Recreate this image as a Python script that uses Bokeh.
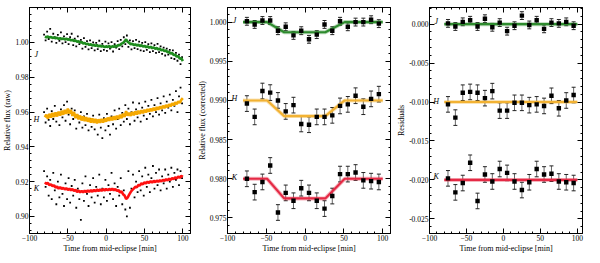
from bokeh.plotting import figure
from bokeh.models import (LinearAxis, FixedTicker, PrintfTickFormatter, Range1d,
                          Whisker, ColumnDataSource, TeeHead, CustomJSTickFormatter)
from bokeh.layouts import row
from bokeh.core.properties import value
from bokeh.embed import file_html
from bokeh.resources import INLINE

FONT = "Liberation Serif"
FIG_H = 255

# ---------------- Panel 1: raw light curves ----------------
raw_line_t = [-80, -78, -76, -74, -72, -70, -68, -66, -64, -62, -60, -58, -56, -54, -52, -50,
              -48, -46, -44, -42, -40, -38, -36, -34, -32, -30, -28, -26, -24, -22, -20, -18,
              -16, -14, -12, -10, -8, -6, -4, -2, 0, 2, 4, 6, 8, 10, 12, 14, 16, 18, 20, 22,
              24, 26, 28, 30, 32, 34, 36, 38, 40, 42, 44, 46, 48, 50, 52, 54, 56, 58, 60, 62,
              64, 66, 68, 70, 72, 74, 76, 78, 80, 82, 84, 86, 88, 90, 92, 94, 96, 98, 100]
raw_line_J = [1.0033, 1.0030, 1.0034, 1.0029, 1.0031, 1.0026, 1.0029, 1.0024, 1.0027, 1.0021,
              1.0025, 1.0019, 1.0023, 1.0017, 1.0022, 1.0016, 1.0019, 1.0012, 1.0015, 1.0008,
              1.0011, 1.0004, 1.0007, 0.9999, 1.0003, 0.9994, 0.9998, 0.9989, 0.9993, 0.9986,
              0.9990, 0.9982, 0.9987, 0.9980, 0.9985, 0.9977, 0.9982, 0.9976, 0.9980, 0.9973,
              0.9978, 0.9974, 0.9979, 0.9972, 0.9978, 0.9975, 0.9981, 0.9977, 0.9986, 0.9984,
              0.9993, 0.9997, 1.0006, 1.0018, 1.0004, 0.9998, 0.9990, 0.9993, 0.9985, 0.9989,
              0.9982, 0.9987, 0.9979, 0.9984, 0.9976, 0.9981, 0.9973, 0.9978, 0.9970, 0.9975,
              0.9967, 0.9972, 0.9964, 0.9968, 0.9960, 0.9964, 0.9955, 0.9959, 0.9950, 0.9954,
              0.9944, 0.9947, 0.9936, 0.9939, 0.9928, 0.9930, 0.9919, 0.9921, 0.9907, 0.9910,
              0.9893]
raw_line_H = [0.9570, 0.9585, 0.9562, 0.9590, 0.9568, 0.9595, 0.9572, 0.9598, 0.9575, 0.9602,
              0.9580, 0.9607, 0.9585, 0.9612, 0.9590, 0.9620, 0.9592, 0.9612, 0.9578, 0.9600,
              0.9565, 0.9588, 0.9558, 0.9580, 0.9552, 0.9575, 0.9548, 0.9570, 0.9545, 0.9566,
              0.9540, 0.9563, 0.9538, 0.9560, 0.9536, 0.9558, 0.9538, 0.9560, 0.9540, 0.9562,
              0.9545, 0.9568, 0.9550, 0.9572, 0.9553, 0.9575, 0.9556, 0.9579, 0.9560, 0.9584,
              0.9565, 0.9590, 0.9572, 0.9605, 0.9580, 0.9596, 0.9578, 0.9600, 0.9582, 0.9604,
              0.9586, 0.9607, 0.9590, 0.9610, 0.9594, 0.9613, 0.9598, 0.9617, 0.9602, 0.9620,
              0.9606, 0.9624, 0.9610, 0.9628, 0.9614, 0.9632, 0.9619, 0.9636, 0.9623, 0.9640,
              0.9628, 0.9645, 0.9633, 0.9650, 0.9639, 0.9656, 0.9645, 0.9662, 0.9652, 0.9670,
              0.9680]
raw_line_K = [0.9196, 0.9188, 0.9192, 0.9180, 0.9185, 0.9174, 0.9179, 0.9166, 0.9172, 0.9160,
              0.9168, 0.9158, 0.9165, 0.9155, 0.9163, 0.9152, 0.9160, 0.9150, 0.9157, 0.9146,
              0.9153, 0.9141, 0.9149, 0.9138, 0.9147, 0.9139, 0.9148, 0.9140, 0.9150, 0.9141,
              0.9151, 0.9142, 0.9153, 0.9144, 0.9155, 0.9146, 0.9156, 0.9147, 0.9158, 0.9149,
              0.9158, 0.9150, 0.9159, 0.9151, 0.9160, 0.9150, 0.9157, 0.9146, 0.9152, 0.9138,
              0.9144, 0.9128, 0.9120, 0.9100, 0.9108, 0.9125, 0.9140, 0.9152, 0.9160, 0.9170,
              0.9168, 0.9180, 0.9178, 0.9190, 0.9185, 0.9196, 0.9190, 0.9200, 0.9193, 0.9203,
              0.9195, 0.9205, 0.9197, 0.9206, 0.9199, 0.9208, 0.9201, 0.9211, 0.9204, 0.9214,
              0.9207, 0.9217, 0.9210, 0.9221, 0.9214, 0.9225, 0.9218, 0.9229, 0.9222, 0.9233,
              0.9228]

raw_pts_t = [-81, -79, -77, -75, -73, -71, -69, -67, -65, -63, -61, -59, -57, -55, -53, -51,
             -49, -47, -45, -43, -41, -39, -37, -35, -33, -31, -29, -27, -25, -23, -21, -19,
             -17, -15, -13, -11, -9, -7, -5, -3, -1, 1, 3, 5, 7, 9, 11, 13, 15, 17, 19, 21,
             23, 25, 27, 29, 31, 33, 35, 37, 39, 41, 43, 45, 47, 49, 51, 53, 55, 57, 59, 61,
             63, 65, 67, 69, 71, 73, 75, 77, 79, 81, 83, 85, 87, 89, 91, 93, 95, 97, 99]
raw_pts_J = [1.0045, 1.0012, 1.0062, 1.0020, 1.0078, 1.0005, 1.0050, 1.0030, 0.9998, 1.0044,
             1.0010, 1.0058, 0.9995, 1.0035, 1.0002, 1.0048, 0.9990, 1.0030, 1.0050, 0.9985,
             1.0022, 0.9978, 1.0035, 0.9990, 1.0015, 0.9965, 1.0025, 0.9975, 1.0008, 0.9960,
             1.0012, 0.9968, 1.0000, 0.9955, 0.9998, 0.9962, 1.0010, 0.9950, 0.9992, 0.9958,
             1.0005, 0.9952, 0.9995, 0.9965, 1.0002, 0.9948, 0.9990, 0.9970, 1.0008, 0.9962,
             1.0015, 0.9978, 1.0030, 0.9990, 1.0040, 0.9975, 1.0012, 0.9960, 1.0008, 0.9968,
             1.0015, 0.9962, 1.0005, 0.9955, 0.9998, 0.9950, 1.0002, 0.9958, 0.9990, 0.9945,
             0.9995, 0.9950, 0.9985, 0.9940, 0.9992, 0.9945, 0.9978, 0.9935, 0.9970, 0.9925,
             0.9965, 0.9930, 0.9958, 0.9910, 0.9955, 0.9905, 0.9940, 0.9895, 0.9930, 0.9875,
             0.9915]
raw_pts_H = [0.9600, 0.9540, 0.9620, 0.9555, 0.9520, 0.9605, 0.9560, 0.9635, 0.9545, 0.9590,
             0.9525, 0.9615, 0.9570, 0.9640, 0.9550, 0.9660, 0.9585, 0.9530, 0.9620, 0.9560,
             0.9610, 0.9505, 0.9580, 0.9540, 0.9600, 0.9510, 0.9575, 0.9525, 0.9590, 0.9495,
             0.9560, 0.9515, 0.9580, 0.9500, 0.9550, 0.9470, 0.9585, 0.9510, 0.9450, 0.9565,
             0.9495, 0.9590, 0.9520, 0.9470, 0.9575, 0.9530, 0.9610, 0.9505, 0.9560, 0.9620,
             0.9525, 0.9595, 0.9545, 0.9640, 0.9560, 0.9620, 0.9530, 0.9600, 0.9655, 0.9550,
             0.9615, 0.9570, 0.9650, 0.9545, 0.9625, 0.9580, 0.9660, 0.9560, 0.9635, 0.9590,
             0.9670, 0.9575, 0.9640, 0.9600, 0.9680, 0.9585, 0.9650, 0.9610, 0.9690, 0.9595,
             0.9660, 0.9625, 0.9700, 0.9610, 0.9670, 0.9635, 0.9720, 0.9600, 0.9690, 0.9740,
             0.9650]
raw_pts_K = [0.9260, 0.9170, 0.9230, 0.9120, 0.9210, 0.9100, 0.9250, 0.9150, 0.9070, 0.9200,
             0.9110, 0.9240, 0.9130, 0.9060, 0.9190, 0.9100, 0.9220, 0.9080, 0.9175, 0.9120,
             0.9210, 0.9050, 0.9160, 0.9100, 0.8980, 0.9190, 0.9090, 0.9230, 0.9130, 0.9060,
             0.9180, 0.9110, 0.9220, 0.9080, 0.9170, 0.9120, 0.9240, 0.9070, 0.9160, 0.9110,
             0.9210, 0.9090, 0.9180, 0.9130, 0.9250, 0.9100, 0.9190, 0.9060, 0.9170, 0.9120,
             0.9220, 0.9070, 0.9150, 0.9040, 0.9000, 0.9260, 0.9050, 0.9160, 0.9240, 0.9110,
             0.9200, 0.9140, 0.9260, 0.9150, 0.9230, 0.9120, 0.9280, 0.9170, 0.9240, 0.9140,
             0.9220, 0.9290, 0.9160, 0.9250, 0.9180, 0.9270, 0.9150, 0.9230, 0.9190, 0.9270,
             0.9160, 0.9240, 0.9200, 0.9280, 0.9170, 0.9250, 0.9210, 0.9270, 0.9180, 0.9260,
             0.9220]

# ---------------- Panel 2 & 3: binned data ----------------
bin_t = [-75, -65, -55, -45, -35, -25, -15, -5, 5, 15, 25, 35, 45, 55, 65, 75, 85, 95]
cor_J = [1.0001, 0.9997, 1.0002, 1.0002, 0.9989, 0.9994, 0.9983, 0.9989, 0.9978,
         0.9984, 0.9997, 0.9989, 1.0001, 0.9994, 1.0000, 1.0000, 1.0003, 0.9998]
cor_H = [0.9896, 0.9879, 0.9912, 0.9910, 0.9900, 0.9886, 0.9894, 0.9870, 0.9869,
         0.9879, 0.9879, 0.9881, 0.9893, 0.9895, 0.9906, 0.9892, 0.9902, 0.9908]
cor_K = [0.9800, 0.9783, 0.9796, 0.9817, 0.9757, 0.9782, 0.9772, 0.9788, 0.9782,
         0.9772, 0.9762, 0.9778, 0.9806, 0.9806, 0.9808, 0.9798, 0.9797, 0.9796]
err_J = [0.0005] * 18
err_H = [0.0010] * 18
err_K = [0.0010] * 18

res_J = [0.0001, -0.0003, 0.0003, 0.0005, -0.0003, 0.0007, -0.0004, 0.0002, -0.0009,
         -0.0002, 0.0011, -0.0001, 0.0005, -0.0006, 0.0002, 0.0001, 0.0003, -0.0002]
res_H = [-0.0103, -0.0120, -0.0088, -0.0087, -0.0088, -0.0095, -0.0086, -0.0111, -0.0111,
         -0.0101, -0.0101, -0.0104, -0.0103, -0.0105, -0.0092, -0.0108, -0.0098, -0.0091]
res_K = [-0.0198, -0.0216, -0.0204, -0.0178, -0.0227, -0.0193, -0.0202, -0.0186, -0.0191,
         -0.0202, -0.0213, -0.0203, -0.0186, -0.0193, -0.0192, -0.0202, -0.0203, -0.0204]

# eclipse model (contact points) and levels
model_t = [-80, -49, -27, 26, 51, 100]
model_J = [1.0000, 1.0000, 0.99870, 0.99870, 1.0000, 1.0000]
model_H = [0.9900, 0.9900, 0.98800, 0.98800, 0.9900, 0.9900]
model_K = [0.9800, 0.9800, 0.97750, 0.97750, 0.9800, 0.9800]
resid_t = [-80, 100]
resid_J = [0.0, 0.0]
resid_H = [-0.010, -0.010]
resid_K = [-0.020, -0.020]

band_names = ["J", "H", "K"]
label_t = [-91, -91, -91]
label_raw = [0.9928, 0.9560, 0.9162]
label_cor = [1.0002, 0.9903, 0.9802]
label_res = [0.0004, -0.0099, -0.0196]

x_ticks = [-100, -50, 0, 50, 100]
y1_ticks = [0.90, 0.92, 0.94, 0.96, 0.98, 1.00]
y2_ticks = [0.975, 0.980, 0.985, 0.990, 0.995, 1.000]
y3_ticks = [-0.025, -0.020, -0.015, -0.010, -0.005, 0.0]

RAW_COLORS = ["#1e8c1e", "#f5a800", "#ff1010"]
MOD_COLORS = ["#2e8b2e", "#f2b233", "#e52a45"]


def minor(ticks, n):
    d = ticks[1] - ticks[0]
    step = d / n
    out = []
    lo = ticks[0] - d
    for k in range(len(ticks) + 1):
        for j in range(1, n):
            out.append(lo + k * d + j * step)
    return out


def style_axis(ax, ticker, fmt=None, labels=True):
    ax.ticker = ticker
    if fmt is not None:
        ax.formatter = fmt
    ax.major_tick_in = 5
    ax.major_tick_out = 0
    ax.minor_tick_in = 2
    ax.minor_tick_out = 0
    ax.axis_line_color = "black"
    ax.major_tick_line_color = "black"
    ax.minor_tick_line_color = "black"
    ax.major_label_text_font = FONT
    ax.major_label_text_color = "black"
    ax.major_label_text_font_size = "7.5px"
    ax.axis_label_text_font = FONT
    ax.axis_label_text_font_style = "normal"
    ax.axis_label_text_font_size = "8px"
    ax.axis_label_text_color = "black"
    ax.axis_label_standoff = 0
    if labels:
        ax.major_label_standoff = 1
    else:
        ax.formatter = CustomJSTickFormatter(code="return ''")
        ax.major_label_standoff = 0


def make_fig(width, xr, yr, yticks, yfmt, ylabel, bl, br, bt, bb):
    p = figure(width=width, height=FIG_H, x_range=Range1d(*xr), y_range=Range1d(*yr),
               output_backend="svg", toolbar_location=None,
               min_border_left=bl, min_border_right=br, min_border_top=bt,
               min_border_bottom=bb)
    p.grid.visible = False
    p.outline_line_color = "black"
    p.outline_line_width = 1
    xt = FixedTicker(ticks=x_ticks, minor_ticks=minor(x_ticks, 5))
    yt = FixedTicker(ticks=yticks, minor_ticks=minor(yticks, 5))
    style_axis(p.xaxis[0], xt)
    style_axis(p.yaxis[0], yt, PrintfTickFormatter(format=yfmt))
    p.xaxis[0].axis_label = "Time from mid-eclipse [min]"
    p.yaxis[0].axis_label = ylabel
    top = LinearAxis()
    style_axis(top, FixedTicker(ticks=x_ticks, minor_ticks=minor(x_ticks, 5)), labels=False)
    p.add_layout(top, "above")
    right = LinearAxis()
    style_axis(right, FixedTicker(ticks=yticks, minor_ticks=minor(yticks, 5)), labels=False)
    p.add_layout(right, "right")
    return p


def band_labels(p, ys):
    p.text(x=label_t, y=ys, text=band_names, text_font=value(FONT),
           text_font_style="italic", text_font_size="8px", text_align="center",
           text_baseline="middle", text_color="black")


# Panel 1
p1 = make_fig(194, (-100, 110), (0.8902, 1.0201), y1_ticks, "%.2f",
              "Relative flux (raw)", 24, 4, 0, 18)
for ys, yl, c in zip([raw_pts_J, raw_pts_H, raw_pts_K],
                     [raw_line_J, raw_line_H, raw_line_K], RAW_COLORS):
    p1.scatter(raw_pts_t, ys, marker="square", size=1.8, fill_color="black",
               line_alpha=0)
    p1.line(raw_line_t, yl, line_color=c, line_width=2.6)
band_labels(p1, label_raw)

# Panel 2
p2 = make_fig(200, (-100, 110), (0.97302, 1.00186), y2_ticks, "%.3f",
              "Relative flux (corrected)", 31, 4, 5, 18)
for ys, es, mt, c in zip([cor_J, cor_H, cor_K], [err_J, err_H, err_K],
                         [model_J, model_H, model_K], MOD_COLORS):
    p2.line(model_t, mt, line_color=c, line_width=4, line_alpha=0.35)
    p2.line(model_t, mt, line_color=c, line_width=2.1)
    src = ColumnDataSource(dict(t=bin_t, y=ys,
                                lo=[a - b for a, b in zip(ys, es)],
                                hi=[a + b for a, b in zip(ys, es)]))
    p2.add_layout(Whisker(source=src, base="t", upper="hi", lower="lo",
                          line_color="#666666", line_width=1,
                          upper_head=TeeHead(size=4, line_color="#222222"),
                          lower_head=TeeHead(size=4, line_color="#222222")))
    p2.scatter("t", "y", source=src, marker="square", size=4.4, fill_color="black",
               line_alpha=0)
band_labels(p2, label_cor)

# Panel 3
p3 = make_fig(190, (-100, 107), (-0.02688, 0.00214), y3_ticks, "%.3f",
              "Residuals", 32, 2, 7, 18)
for ys, es, rl, c in zip([res_J, res_H, res_K], [err_J, err_H, err_K],
                         [resid_J, resid_H, resid_K], MOD_COLORS):
    p3.line(resid_t, rl, line_color=c, line_width=4, line_alpha=0.35)
    p3.line(resid_t, rl, line_color=c, line_width=2.1)
    src = ColumnDataSource(dict(t=bin_t, y=ys,
                                lo=[a - b for a, b in zip(ys, es)],
                                hi=[a + b for a, b in zip(ys, es)]))
    p3.add_layout(Whisker(source=src, base="t", upper="hi", lower="lo",
                          line_color="#666666", line_width=1,
                          upper_head=TeeHead(size=4, line_color="#222222"),
                          lower_head=TeeHead(size=4, line_color="#222222")))
    p3.scatter("t", "y", source=src, marker="square", size=4.4, fill_color="black",
               line_alpha=0)
band_labels(p3, label_res)

layout = row(p1, p2, p3)
open("out.html", "w").write(file_html(layout, INLINE))
